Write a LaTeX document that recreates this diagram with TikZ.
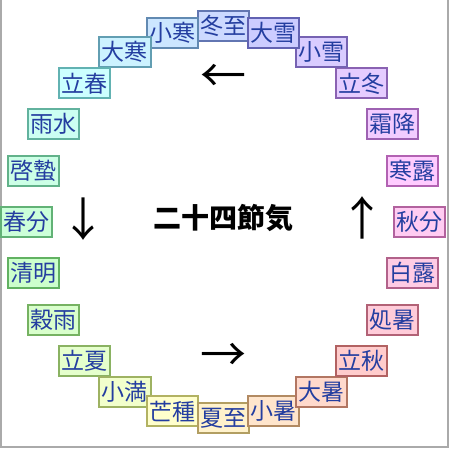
\documentclass[tikz,border=0pt]{standalone}
\usepackage{fontspec}
\newfontfamily\cjk{Noto Sans CJK JP}
\definecolor{termtext}{RGB}{36,62,160}
\definecolor{framegray}{RGB}{170,170,170}

\begin{document}
\begin{tikzpicture}[
    x=1pt, y=1pt,
    term/.style={rectangle, line width=2pt, minimum width=51pt, minimum height=30pt,
      inner sep=1pt, text=termtext, font=\cjk\fontsize{23}{23}\selectfont},
    flow/.style={font=\cjk\fontsize{46}{46}\selectfont, text=black}
  ]
  \useasboundingbox (-223,-227) rectangle (226,222);
  \draw[framegray, line width=2pt] (-222,222) -- (-222,-225) -- (224.5,-225) -- (224.5,222);
  % 24 terms, counter-clockwise from the top
  \foreach \name [count=\i from 0] in {冬至,小寒,大寒,立春,雨水,啓蟄,春分,清明,穀雨,立夏,小満,芒種,
      夏至,小暑,大暑,立秋,処暑,白露,秋分,寒露,霜降,立冬,小雪,大雪} {
    \pgfmathtruncatemacro\ang{90+15*\i}
    \pgfmathtruncatemacro\hue{mod(225-15*\i+360,360)}
    \definecolor{hsbfill}{Hsb}{\hue,0.2,1}
    \definecolor{hsbline}{Hsb}{\hue,0.45,0.7}
    \colorlet{boxfill}[rgb]{hsbfill}
    \colorlet{boxline}[rgb]{hsbline}
    \node[term, fill=boxfill, draw=boxline] (term\i) at (\ang:196) {\name};
  }
  \node[font=\cjk\bfseries\fontsize{28}{28}\selectfont] (title) at (0,4) {二十四節気};
  \node[flow] (toleft) at (0,144) {←};
  \node[flow] (todown) at (-139,3) {↓};
  \node[flow] (toright) at (0,-135) {→};
  \node[flow] (toup) at (139,4) {↑};
\end{tikzpicture}
\end{document}
